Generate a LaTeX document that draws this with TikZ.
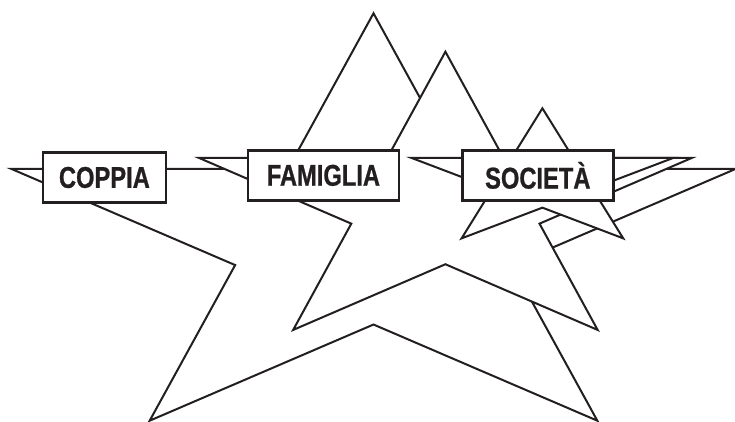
\documentclass[tikz,border=0pt]{standalone}
\usepackage{fontspec}
\setsansfont{Liberation Sans}[FakeStretch=0.79, BoldFeatures={FakeBold=0.8}]
\usepackage{tikz}
\usetikzlibrary{positioning}
\usepackage{xcolor}
\definecolor{inchiostro}{HTML}{231F20}

\tikzset{
    stella/.style={draw=inchiostro, line width=2pt, fill=white, line join=miter},
    etichetta/.style={draw=inchiostro, line width=2.5pt, fill=white, inner sep=0pt,
        minimum height=50pt, text=inchiostro,
        font=\sffamily\bfseries\fontsize{30}{32}\selectfont}
}

\begin{document}
\begin{tikzpicture}[x=1pt, y=1pt]
    \useasboundingbox (0,0) rectangle (735,422);

    % stella grande
    \begin{scope}[shift={(373.5,183.5)}, xscale=380.8, yscale=225.2]
        \draw[stella] (90:1) -- (126:.382) -- (162:1) -- (198:.382) -- (234:1) -- (270:.382)
            -- (306:1) -- (342:.382) -- (18:1) -- (54:.382) -- cycle;
    \end{scope}

    % stella media
    \begin{scope}[shift={(445.4,216.5)}, xscale=259, yscale=153.8]
        \draw[stella] (90:1) -- (126:.382) -- (162:1) -- (198:.382) -- (234:1) -- (270:.382)
            -- (306:1) -- (342:.382) -- (18:1) -- (54:.382) -- cycle;
    \end{scope}

    % stella piccola
    \begin{scope}[shift={(542.4,241.8)}, xscale=137.5, yscale=71.9]
        \draw[stella] (90:1) -- (126:.382) -- (162:1) -- (198:.382) -- (234:1) -- (270:.382)
            -- (306:1) -- (342:.382) -- (18:1) -- (54:.382) -- cycle;
    \end{scope}

    % etichette
    \node[etichetta, minimum width=123pt] (coppia) at (104.4,244.5) {COPPIA};
    \node[etichetta, minimum width=151pt] (famiglia) at (323.4,246.6) {FAMIGLIA};
    \node[etichetta, minimum width=151pt] (societa) at (537.8,246.6) {SOCIETÀ};
\end{tikzpicture}
\end{document}
